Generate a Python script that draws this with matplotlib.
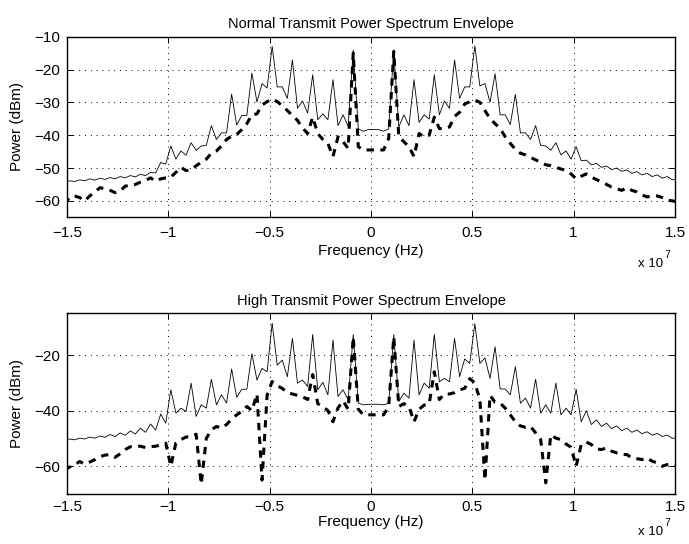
import numpy as np
import matplotlib
matplotlib.use("Agg")
import matplotlib.pyplot as plt
from matplotlib.ticker import FuncFormatter

# frequency grid (Hz), 250 kHz bins
freq_step = 2.5e5
freq = -1.5125e7 + freq_step * np.arange(122)

# normal transmit power: peak (solid) and average (dashed), dBm
normal_peak = [
    -54.3, -53.9, -54.1, -53.6, -53.9, -53.3, -53.7, -53.1, -53.5, -52.9, -53.3,
    -52.6, -53.0, -52.3, -52.7, -51.9, -52.3, -51.3, -51.5, -48.3, -48.8,
    -43.3, -47.3, -44.8, -46.1, -42.3, -44.6, -43.3, -43.1, -37.1, -41.3, -39.3,
    -39.3, -27.5, -36.9, -34.0, -34.0, -21.1, -29.9, -24.3, -25.6, -13.0,
    -25.3, -25.3, -28.8, -17.1, -31.8, -29.6, -33.3, -21.6, -35.3, -33.5,
    -35.3, -23.1, -37.1, -33.8, -37.3, -14.1, -38.1, -38.8, -38.3,
    -38.3, -38.3, -38.8, -38.1, -14.0, -37.5, -33.8, -37.1, -23.1, -36.1, -33.8,
    -35.1, -21.6, -33.8, -29.6, -31.8, -17.1, -28.8, -25.3, -25.3, -12.8,
    -25.0, -24.3, -30.0, -21.3, -33.8, -33.8, -36.8, -27.6, -39.3, -39.3,
    -41.3, -37.1, -43.1, -43.3, -44.6, -42.3, -46.0, -44.8, -47.3, -43.5,
    -47.8, -47.6, -49.0, -48.6, -49.8, -49.4, -50.5, -50.0, -51.0, -50.6,
    -51.6, -51.1, -52.1, -51.6, -52.6, -52.1, -53.1, -52.6, -53.6, -53.2,
]
normal_avg = [
    -61.0, -59.0, -58.5, -59.0, -60.0, -58.5, -57.3, -56.0, -56.3, -56.8, -57.5,
    -57.0, -55.5, -55.3, -55.0, -54.3, -53.8, -53.0, -54.0, -53.3, -53.0,
    -52.8, -51.3, -49.8, -50.8, -50.5, -49.3, -48.3, -47.3, -45.5, -44.8, -43.3,
    -41.3, -40.3, -39.8, -38.3, -36.5, -33.8, -33.5, -30.8, -29.8, -29.0,
    -29.8, -31.0, -32.5, -34.0, -35.5, -37.8, -39.5, -34.5, -39.5, -41.3,
    -42.5, -46.5, -40.5, -42.0, -44.0, -15.0, -43.5, -44.5, -44.5,
    -44.5, -44.5, -44.5, -41.0, -14.5, -40.5, -42.0, -43.5, -46.5, -39.5, -40.5,
    -40.0, -34.5, -38.0, -38.0, -37.5, -34.3, -33.0, -30.5, -29.8, -29.3,
    -30.0, -32.5, -35.0, -36.5, -38.0, -40.5, -42.5, -44.3, -45.5, -46.0,
    -46.8, -47.5, -48.3, -49.0, -49.3, -49.8, -50.3, -50.8, -51.8, -53.3,
    -52.5, -51.8, -52.8, -53.5, -54.3, -55.0, -55.8, -56.3, -56.8, -56.0,
    -56.8, -57.3, -58.2, -58.8, -58.5, -58.5, -59.0, -59.8, -60.0, -60.3,
]

# high transmit power
high_peak = [
    -50.6, -50.2, -50.5, -49.9, -50.2, -49.5, -49.9, -49.1, -49.6, -48.6, -49.3,
    -48.0, -48.9, -47.3, -48.4, -46.3, -47.8, -44.8, -47.0, -41.2, -44.5,
    -32.5, -40.9, -39.1, -40.3, -30.1, -42.1, -37.9, -39.1, -28.7, -37.9, -34.3,
    -37.3, -25.0, -35.2, -32.3, -32.3, -19.5, -29.0, -24.8, -26.0, -8.5,
    -23.6, -21.8, -27.8, -14.0, -30.1, -29.0, -31.3, -12.6, -32.5, -29.8,
    -34.3, -14.6, -34.9, -32.5, -36.1, -12.6, -37.3, -37.9, -37.7,
    -37.7, -37.7, -37.9, -37.3, -12.6, -36.7, -33.7, -35.5, -14.6, -34.3, -30.1,
    -31.9, -12.6, -29.6, -28.4, -29.6, -14.0, -27.8, -21.4, -23.0, -8.7,
    -23.0, -21.0, -28.4, -17.0, -32.2, -32.2, -34.3, -24.2, -37.3, -35.5,
    -39.1, -28.7, -40.9, -37.9, -40.9, -30.1, -41.5, -39.1, -41.5, -32.3,
    -44.0, -40.0, -45.0, -43.3, -45.7, -44.5, -46.5, -45.5, -47.2, -46.3,
    -47.8, -47.0, -48.3, -47.6, -48.8, -48.2, -49.3, -48.8, -50.0, -49.6,
]
high_avg = [
    -61.3, -60.3, -59.5, -58.3, -59.2, -58.5, -57.6, -56.6, -56.0, -55.8, -56.8,
    -55.5, -54.0, -53.0, -52.8, -52.8, -53.3, -53.0, -52.8, -52.3, -51.7,
    -60.0, -51.6, -50.4, -49.5, -49.3, -48.5, -66.5, -50.0, -46.9, -45.7, -46.3,
    -45.0, -43.0, -41.5, -40.3, -38.5, -40.0, -34.0, -65.0, -34.5, -29.5,
    -31.0, -32.0, -33.5, -34.0, -34.5, -35.0, -36.0, -27.0, -37.5, -38.5,
    -40.0, -44.0, -39.0, -36.5, -39.5, -13.5, -39.5, -41.5, -41.5,
    -41.5, -41.5, -41.5, -38.5, -13.5, -38.5, -37.5, -38.5, -44.0, -39.5, -38.0,
    -37.5, -26.0, -36.0, -34.0, -34.0, -33.5, -32.5, -32.0, -28.5, -30.0,
    -36.0, -65.0, -34.5, -37.0, -37.3, -39.1, -41.5, -44.0, -45.5, -46.0,
    -45.7, -48.0, -50.4, -66.0, -48.7, -49.9, -50.4, -52.0, -53.2, -60.0,
    -52.2, -51.3, -52.2, -53.8, -54.0, -53.4, -54.6, -55.2, -55.8, -55.8,
    -57.0, -57.3, -57.6, -57.0, -58.2, -58.8, -60.0, -59.4, -59.4, -60.0,
]

titles = ["Normal Transmit Power Spectrum Envelope", "High Transmit Power Spectrum Envelope"]
xticks = [-1.5, -1, -0.5, 0, 0.5, 1, 1.5]

plt.rcParams['font.family'] = ['Liberation Sans', 'DejaVu Sans']
plt.rcParams['font.size'] = 11

fig = plt.figure(figsize=(6.89, 5.44), dpi=100)
ax1 = fig.add_axes([0.0972, 0.6006, 0.8824, 0.332])
ax2 = fig.add_axes([0.0972, 0.0919, 0.8824, 0.332])


def fmt(v, pos):
    return f"{v:g}".replace("-", "\u2212")


def draw(ax, peak, avg, title, ylim, yticks, xpad):
    x = freq / 1e7
    ax.plot(x, peak, color='black', linewidth=0.6)
    ax.plot(x, avg, color='black', linewidth=2.2, linestyle=(0, (2.4, 2.1)))
    ax.set_xlim(-1.5, 1.5)
    ax.set_ylim(*ylim)
    ax.set_xticks(xticks)
    ax.set_yticks(yticks)
    ax.xaxis.set_major_formatter(FuncFormatter(fmt))
    ax.yaxis.set_major_formatter(FuncFormatter(fmt))
    ax.grid(True, color='black', linestyle=(0, (1, 5)), linewidth=0.7)
    ax.tick_params(direction='in', top=True, right=True, length=4, width=0.7,
                   labelsize=11)
    ax.tick_params(axis='x', pad=xpad)
    ax.tick_params(axis='y', pad=5)
    for s in ax.spines.values():
        s.set_linewidth(1.0)
    ax.set_title(title, fontsize=10.5, pad=6)
    ax.set_xlabel("Frequency (Hz)", fontsize=11)
    ax.set_ylabel("Power (dBm)", fontsize=11)


draw(ax1, normal_peak, normal_avg, titles[0], (-65, -10), [-60, -50, -40, -30, -20, -10], 6)
draw(ax2, high_peak, high_avg, titles[1], (-70, -5), [-60, -40, -20], 4)

ax1.xaxis.set_label_coords(0.5, -0.15)
ax2.xaxis.set_label_coords(0.5, -0.118)
ax1.yaxis.set_label_coords(-0.071, 0.5)
ax2.yaxis.set_label_coords(-0.071, 0.5)

# exponent labels
for yb, ys in [(264, 255), (532, 523)]:
    fig.text(638 / 689, 1 - yb / 544, "x 10", fontsize=9.5, va='center', ha='left')
    fig.text(664 / 689, 1 - ys / 544, "7", fontsize=7.5, va='center', ha='left')

fig.savefig("out.png", dpi=100)
